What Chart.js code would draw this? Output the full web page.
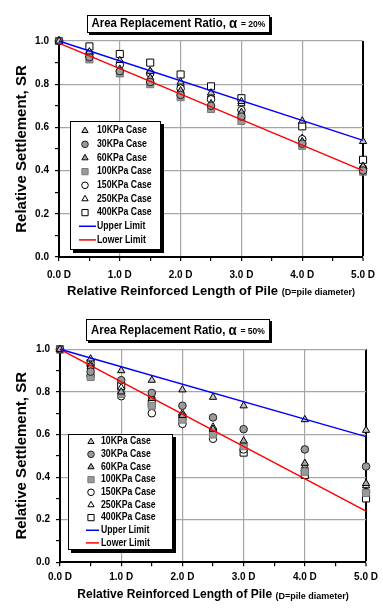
<!DOCTYPE html>
<html><head><meta charset="utf-8">
<script src="https://cdn.jsdelivr.net/npm/chart.js@4.4.0/dist/chart.umd.min.js"></script>
<style>
html,body{margin:0;padding:0;background:#fff;width:383px;height:610px;overflow:hidden}
.wrap{position:absolute;left:0;width:383px;height:305px}
canvas{display:block}
</style></head><body>
<div class="wrap" style="top:0"><canvas id="c20" width="383" height="305"></canvas></div>
<div class="wrap" style="top:305px"><canvas id="c50" width="383" height="305"></canvas></div>
<script>
// ---------- data ----------
const lengthsD = [0, 0.5, 1, 1.5, 2, 2.5, 3, 4, 5];
const caseLabels = ['10KPa Case','30KPa Case','60KPa Case','100KPa Case','150KPa Case','250KPa Case','400KPa Case'];
const limitLabels = ['Upper Limit','Lower Limit'];
const limitX = [0, 5];
const xTickLabels = ['0.0 D','1.0 D','2.0 D','3.0 D','4.0 D','5.0 D'];
const yTickLabels = ['0.0','0.2','0.4','0.6','0.8','1.0'];
const titlePrefix = 'Area Replacement Ratio, ';
const alphaSymbol = 'α';
const ratioLabels = ['= 20%', '= 50%'];
const yAxisTitle = 'Relative Settlement, SR';
const xAxisTitle = 'Relative Reinforced Length of Pile ';
const xAxisNote = '(D=pile diameter)';

// alpha = 20%
const sr20_10KPa  = [1.00, 0.950, 0.910, 0.860, 0.810, 0.760, 0.720, 0.630, 0.535];
const sr20_30KPa  = [1.00, 0.925, 0.860, 0.810, 0.750, 0.700, 0.650, 0.525, 0.400];
const sr20_60KPa  = [1.00, 0.935, 0.870, 0.830, 0.770, 0.710, 0.670, 0.535, 0.420];
const sr20_100KPa = [1.00, 0.915, 0.850, 0.800, 0.740, 0.685, 0.630, 0.515, 0.395];
const sr20_150KPa = [1.00, 0.940, 0.890, 0.850, 0.780, 0.730, 0.680, 0.545, 0.410];
const sr20_250KPa = [1.00, 0.945, 0.900, 0.860, 0.800, 0.750, 0.710, 0.550, 0.420];
const sr20_400KPa = [1.00, 0.975, 0.940, 0.900, 0.845, 0.790, 0.735, 0.605, 0.450];
const upper20 = [1.00, 0.540];
const lower20 = [0.99, 0.400];

// alpha = 50%
const sr50_10KPa  = [1.00, 0.955, 0.900, 0.855, 0.810, 0.775, 0.735, 0.670, 0.620];
const sr50_30KPa  = [1.00, 0.895, 0.855, 0.795, 0.735, 0.680, 0.625, 0.530, 0.450];
const sr50_60KPa  = [1.00, 0.920, 0.800, 0.770, 0.690, 0.625, 0.570, 0.465, 0.370];
const sr50_100KPa = [1.00, 0.870, 0.790, 0.735, 0.670, 0.600, 0.545, 0.425, 0.325];
const sr50_150KPa = [1.00, 0.875, 0.780, 0.700, 0.650, 0.580, 0.530, 0.430, 0.330];
const sr50_250KPa = [1.00, 0.930, 0.820, 0.780, 0.700, 0.635, 0.560, 0.450, 0.360];
const sr50_400KPa = [1.00, 0.935, 0.830, 0.745, 0.680, 0.610, 0.515, 0.410, 0.300];
const upper50 = [1.00, 0.590];
const lower50 = [1.00, 0.240];

// ---------- styles ----------
const FONT = "'Liberation Sans', Arial, sans-serif";
Chart.defaults.font.family = FONT;
Chart.defaults.color = '#000';

const GRID = '#a6a6a6';
const markerStyles = [
  {style:'triangle', bg:'#c4c4c4', border:'#000', r:4.2, lr:3.6},
  {style:'circle',   bg:'#9a9a9a', border:'#222', r:3.8, lr:3.3},
  {style:'triangle', bg:'#a8a8a8', border:'#000', r:4.2, lr:3.6},
  {style:'rect',     bg:'#9a9a9a', border:'#777', r:5.0, lr:4.4},
  {style:'circle',   bg:'#ffffff', border:'#000', r:3.8, lr:3.3},
  {style:'triangle', bg:'#ffffff', border:'#000', r:4.2, lr:3.6},
  {style:'rect',     bg:'#ffffff', border:'#000', r:5.0, lr:4.4}
];
const limitColors = ['#0000ff', '#ff0000'];

const panels = [
  {id:'c20', ratio: ratioLabels[0],
   series:[sr20_10KPa, sr20_30KPa, sr20_60KPa, sr20_100KPa, sr20_150KPa, sr20_250KPa, sr20_400KPa],
   limits:[upper20, lower20],
   area:{left:59, right:368, top:41, bottom:257},
   titleBox:{x:87, y:15, w:183, h:18, cy:24},
   legend:{x:70, y:121, w:91, h:129, row0:130.7, dy:13.65, mx:85, tx:97, lx0:79, lx1:96},
   xTitleY:291.5, xTitleSize:13, tickPad:8},
  {id:'c50', ratio: ratioLabels[1],
   series:[sr50_10KPa, sr50_30KPa, sr50_60KPa, sr50_100KPa, sr50_150KPa, sr50_250KPa, sr50_400KPa],
   limits:[upper50, lower50],
   area:{left:60, right:368, top:44.3, bottom:257.3},
   titleBox:{x:86, y:14, w:184, h:22, cy:25.5},
   legend:{x:68, y:129, w:105, h:116, row0:136.7, dy:12.65, mx:91, tx:101, lx0:86, lx1:99},
   xTitleY:290, xTitleSize:12, tickPad:5}
];

function scaledText(ctx, text, x, y, font, sx, align) {
  ctx.save();
  ctx.font = font;
  ctx.textBaseline = 'middle';
  ctx.textAlign = align || 'left';
  ctx.translate(x, y);
  ctx.scale(sx, 1);
  ctx.fillStyle = '#000';
  ctx.fillText(text, 0, 0);
  ctx.restore();
}

function shadowBox(ctx, x, y, w, h, sh) {
  ctx.save();
  ctx.fillStyle = '#000';
  ctx.fillRect(x + sh, y + sh, w, h);
  ctx.fillStyle = '#fff';
  ctx.fillRect(x, y, w, h);
  ctx.strokeStyle = '#000';
  ctx.lineWidth = 1;
  ctx.strokeRect(x + 0.5, y + 0.5, w - 1, h - 1);
  ctx.restore();
}

const decorPlugin = {
  id: 'decor',
  afterDraw(chart) {
    const p = chart.options.plugins.decor.panel;
    const ctx = chart.ctx;
    // title box
    const tb = p.titleBox;
    shadowBox(ctx, tb.x, tb.y, tb.w, tb.h, 2);
    const f1 = 'bold 12px ' + FONT, f2 = 'bold 14px ' + FONT, f3 = 'bold 9px ' + FONT;
    const sx = 0.95;
    ctx.font = f1; const w1 = ctx.measureText(titlePrefix).width * sx;
    ctx.font = f2; const w2 = ctx.measureText(alphaSymbol + ' ').width * sx;
    ctx.font = f3; const w3 = ctx.measureText(p.ratio).width * sx;
    let x0 = tb.x + (tb.w - (w1 + w2 + w3)) / 2;
    scaledText(ctx, titlePrefix, x0, tb.cy, f1, sx);
    scaledText(ctx, alphaSymbol, x0 + w1, tb.cy + 0.5, f2, sx);
    scaledText(ctx, p.ratio, x0 + w1 + w2, tb.cy + 1, f3, sx);

    // legend
    const lg = p.legend;
    shadowBox(ctx, lg.x, lg.y, lg.w, lg.h, 3);
    const lf = 'bold 10px ' + FONT;
    caseLabels.forEach((lab, i) => {
      const m = markerStyles[i];
      const y = lg.row0 + i * lg.dy;
      ctx.save();
      ctx.fillStyle = m.bg; ctx.strokeStyle = m.border; ctx.lineWidth = 1;
      Chart.helpers.drawPoint(ctx, {pointStyle: m.style, radius: m.lr, borderWidth: 1, rotation: 0}, lg.mx, y);
      ctx.restore();
      scaledText(ctx, lab, lg.tx, y, lf, 0.87);
    });
    limitLabels.forEach((lab, j) => {
      const y = lg.row0 + (caseLabels.length + j) * lg.dy;
      ctx.save();
      ctx.strokeStyle = limitColors[j]; ctx.lineWidth = 1.5;
      ctx.beginPath(); ctx.moveTo(lg.lx0, y); ctx.lineTo(lg.lx1, y); ctx.stroke();
      ctx.restore();
      scaledText(ctx, lab, lg.tx, y, lf, 0.87);
    });

    // x axis title
    const xf1 = 'bold ' + p.xTitleSize + 'px ' + FONT, xf2 = 'bold 9px ' + FONT;
    ctx.font = xf1; const a = ctx.measureText(xAxisTitle).width;
    ctx.font = xf2; const b = ctx.measureText(xAxisNote).width;
    const ca = chart.chartArea;
    const xs = (ca.left + ca.right) / 2 - (a + b) / 2;
    scaledText(ctx, xAxisTitle, xs, p.xTitleY, xf1, 1);
    scaledText(ctx, xAxisNote, xs + a, p.xTitleY + 1.5, xf2, 1);
  }
};

function isInt(v) { return Math.abs(v - Math.round(v)) < 1e-6; }

function buildChart(p) {
  const datasets = [];
  p.limits.forEach((arr, j) => {
    datasets.push({
      label: limitLabels[j], order: 0,
      data: limitX.map((x, i) => ({x, y: arr[i]})),
      showLine: true, borderColor: limitColors[j], borderWidth: 1.5,
      pointRadius: 0, fill: false, clip: false
    });
  });
  p.series.forEach((arr, i) => {
    const m = markerStyles[i];
    datasets.push({
      label: caseLabels[i], order: 1,
      data: lengthsD.map((x, k) => ({x, y: arr[k]})),
      showLine: false, pointStyle: m.style, pointRadius: m.r,
      backgroundColor: m.bg, borderColor: m.border, borderWidth: 1, clip: false
    });
  });

  const A = p.area;
  return new Chart(document.getElementById(p.id), {
    type: 'scatter',
    data: {datasets},
    plugins: [decorPlugin],
    options: {
      responsive: false, animation: false, devicePixelRatio: 1,
      layout: {padding: {left: 0, right: 383 - A.right, top: A.top, bottom: 0}},
      plugins: {legend: {display: false}, tooltip: {enabled: false}, decor: {panel: p}},
      scales: {
        x: {
          type: 'linear', min: 0, max: 5,
          afterFit: s => { s.height = 305 - A.bottom; },
          ticks: {
            stepSize: 0.5, autoSkip: false, maxRotation: 0, padding: p.tickPad,
            color: '#000', font: {family: FONT, weight: 'bold', size: 10},
            callback: v => (isInt(v) ? xTickLabels[Math.round(v)] : '')
          },
          grid: {
            drawOnChartArea: true,
            color: c => {
              const v = (c.tick && c.tick.value !== undefined) ? c.tick.value : -1;
              if (Math.abs(v - 5) < 1e-6) return '#000000';
              if (v > 0.01 && isInt(v)) return GRID;
              return 'rgba(255,255,255,0)';
            },
            lineWidth: c => (c.tick && Math.abs(c.tick.value - 5) < 1e-6 ? 2 : 1.2),
            tickColor: '#000', tickWidth: 1.2, tickLength: 4
          },
          border: {display: true, color: '#000', width: 2}
        },
        y: {
          type: 'linear', min: 0, max: 1,
          afterFit: s => { s.width = A.left; },
          title: {display: true, text: yAxisTitle, color: '#000',
                  font: {family: FONT, weight: 'bold', size: 15}, padding: {top: 13, bottom: 0}},
          ticks: {
            stepSize: 0.1, autoSkip: false, padding: 6, color: '#000',
            font: {family: FONT, weight: 'bold', size: 10},
            callback: v => { const k = Math.round(v * 10); return k % 2 === 0 ? yTickLabels[k / 2] : ''; }
          },
          grid: {
            drawOnChartArea: true,
            color: c => {
              const v = (c.tick && c.tick.value !== undefined) ? c.tick.value : 0;
              const k = Math.round(v * 10);
              return (k > 0 && k % 2 === 0) ? GRID : 'rgba(255,255,255,0)';
            },
            lineWidth: 1.2, tickColor: '#000', tickWidth: 1.2, tickLength: 4
          },
          border: {display: true, color: '#000', width: 2}
        }
      }
    }
  });
}

panels.forEach(buildChart);
</script>
</body></html>
